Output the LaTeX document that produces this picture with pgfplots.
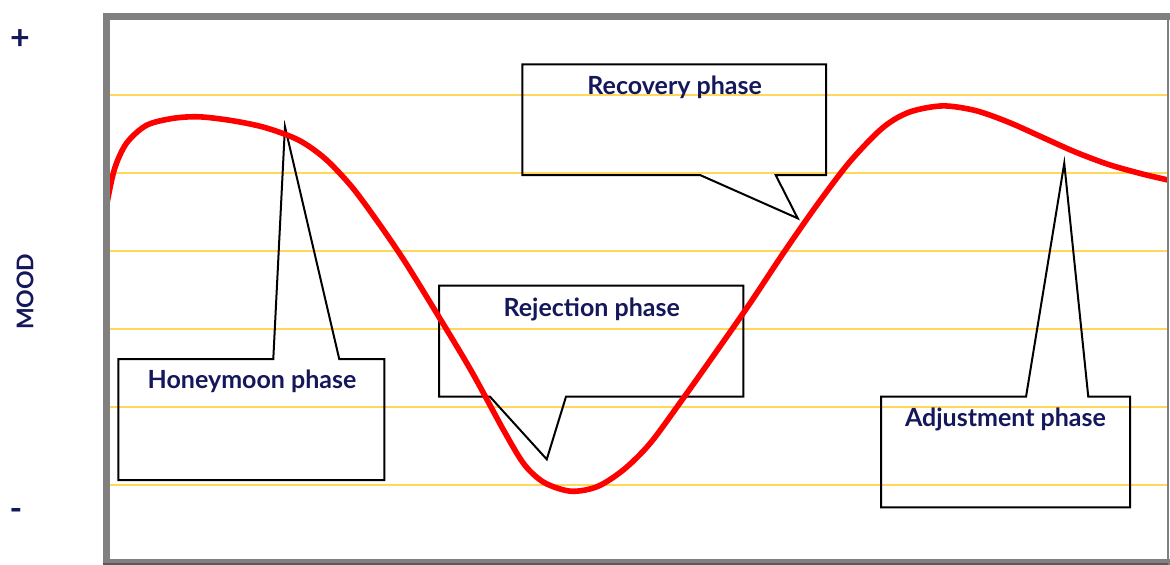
\documentclass[border=0pt]{standalone}
\usepackage{fontspec}
\setmainfont{Lato}
\usepackage{pgfplots}
\pgfplotsset{compat=1.18}
\definecolor{navy}{RGB}{20,24,90}
\definecolor{gridy}{RGB}{255,215,90}
\definecolor{framegray}{RGB}{128,128,128}
\begin{document}
\begin{tikzpicture}
\useasboundingbox (0,0) rectangle (585pt,282.5pt);
\begin{axis}[
  at={(53.25pt,1pt)}, anchor=south west,
  scale only axis, width=530.75pt, height=273pt,
  xmin=0, xmax=8, ymin=0, ymax=7,
  axis lines=none,
  xtick=\empty, ytick={1,2,3,4,5,6}, yticklabels={},
  major tick length=0pt,
  clip=false,
]
% grid lines
\pgfplotsinvokeforeach{1,...,6}{\draw[gridy, line width=0.75pt] (axis cs:0,#1) -- (axis cs:8,#1);}
% callouts
\draw[black, line width=1pt, line join=miter] (axis cs:0.089,2.615) -- (axis cs:1.257,2.615) -- (axis cs:1.345,5.594) -- (axis cs:1.754,2.615) -- (axis cs:2.094,2.615) -- (axis cs:2.094,1.064) -- (axis cs:0.089,1.064) -- cycle;
\draw[black, line width=1pt, line join=miter] (axis cs:2.506,3.555) -- (axis cs:4.799,3.555) -- (axis cs:4.799,2.132) -- (axis cs:3.463,2.132) -- (axis cs:3.318,1.329) -- (axis cs:2.890,2.132) -- (axis cs:2.506,2.132) -- cycle;
\draw[black, line width=1pt, line join=miter] (axis cs:3.134,6.394) -- (axis cs:5.423,6.394) -- (axis cs:5.423,4.974) -- (axis cs:5.043,4.974) -- (axis cs:5.209,4.419) -- (axis cs:4.473,4.974) -- (axis cs:3.134,4.974) -- cycle;
\draw[black, line width=1pt, line join=miter] (axis cs:5.837,2.132) -- (axis cs:6.930,2.132) -- (axis cs:7.218,5.124) -- (axis cs:7.399,2.132) -- (axis cs:7.714,2.132) -- (axis cs:7.714,0.714) -- (axis cs:5.837,0.714) -- cycle;
\node[anchor=base, text=navy, font=\fontsize{12.5}{13}\bfseries, inner sep=0pt] at (axis cs:1.097,2.231) {Honeymoon phase};
\node[anchor=base, text=navy, font=\fontsize{12.5}{13}\bfseries, inner sep=0pt] at (axis cs:3.657,3.158) {Rejection phase};
\node[anchor=base, text=navy, font=\fontsize{12.5}{13}\bfseries, inner sep=0pt] at (axis cs:4.282,6.0) {Recovery phase};
\node[anchor=base, text=navy, font=\fontsize{12.5}{13}\bfseries, inner sep=0pt] at (axis cs:6.775,1.747) {Adjustment phase};
% mood curve
\addplot[red, line width=2.8pt, smooth, line join=round] coordinates {
(0,4.58) (0.06,5.05) (0.15,5.38) (0.3,5.61) (0.5,5.70) (0.7,5.72) (0.95,5.67) (1.2,5.58) (1.45,5.42) (1.65,5.18) (1.85,4.82) (2.05,4.36) (2.25,3.86) (2.5,3.17) (2.75,2.46) (3.0,1.68) (3.15,1.26) (3.3,1.03) (3.5,0.92) (3.7,0.98) (3.9,1.2) (4.1,1.54) (4.35,2.12) (4.6,2.72) (4.85,3.33) (5.1,3.97) (5.35,4.58) (5.6,5.14) (5.85,5.58) (6.05,5.78) (6.3,5.86) (6.55,5.8) (6.8,5.65) (7.05,5.46) (7.3,5.27) (7.55,5.11) (7.8,4.99) (8.0,4.91)
};
% frame
\draw[framegray, line width=1pt] (rel axis cs:1,0) -- (rel axis cs:1,1);
\draw[framegray, line width=3.5pt, line cap=rect] (rel axis cs:1,1) -- (rel axis cs:0,1) -- (rel axis cs:0,0) -- (rel axis cs:1,0);
\end{axis}
\fill[black!65] (51.5pt,0) rectangle (584pt,1pt);
\node[text=navy, font=\fontsize{17}{17}\bfseries, inner sep=0pt] at (10pt,262.5pt) {+};
\node[text=navy, font=\fontsize{17}{17}\bfseries, inner sep=0pt] at (8pt,25.5pt) {-};
\node[text=navy, font=\fontsize{11.5}{12}\bfseries, inner sep=0pt, rotate=90] at (12.5pt,136.6pt) {MOOD};
\end{tikzpicture}
\end{document}
